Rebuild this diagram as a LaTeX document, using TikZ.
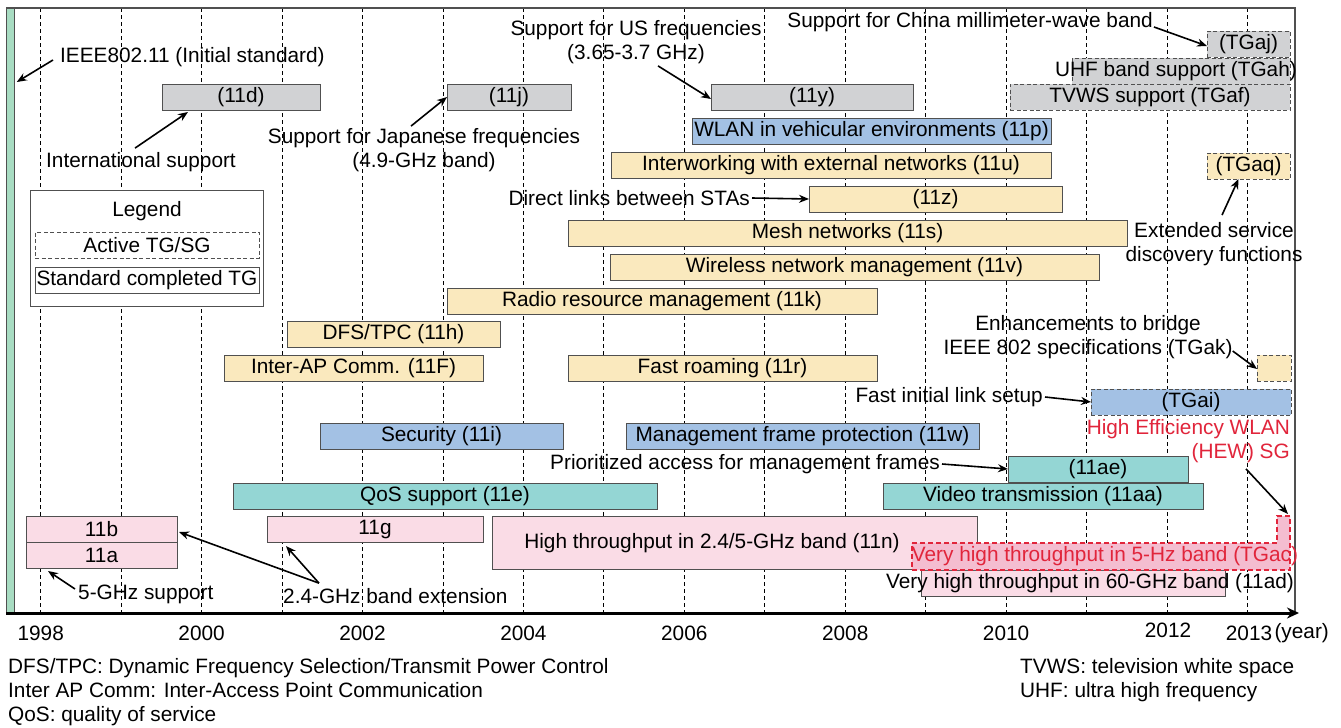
\documentclass[tikz,border=0pt]{standalone}
\usepackage{fontspec}
\setmainfont{Liberation Sans}
\usepackage{tikz}
\usetikzlibrary{arrows.meta, calc}
\definecolor{tggray}{RGB}{209,210,212}
\definecolor{tgblue}{RGB}{163,193,228}
\definecolor{tgyellow}{RGB}{250,233,190}
\definecolor{tgteal}{RGB}{148,214,212}
\definecolor{tgpink}{RGB}{250,220,230}
\definecolor{acpink}{RGB}{244,189,208}
\definecolor{hewred}{RGB}{225,37,59}
\definecolor{initgreen}{RGB}{168,220,194}
\definecolor{edgegray}{RGB}{80,80,80}

\begin{document}
\begin{tikzpicture}[
  x=1pt, y=-1pt,
  >=Stealth,
  tgbar/.style={
    rectangle, draw=edgegray, line width=0.9pt,
    anchor=north west, minimum height=26pt,
    inner sep=0pt, outer sep=0pt,
    font=\fontsize{20.8}{24}\selectfont,
  },
  activebar/.style={tgbar, dash pattern=on 4pt off 2.5pt},
  txt/.style={font=\fontsize{20.8}{24}\selectfont, inner sep=2pt, align=center},
  arr/.style={-{Stealth[length=10pt,width=8pt]}, line width=1.6pt},
  yearline/.style={dash pattern=on 4pt off 3pt, line width=0.8pt},
]
\useasboundingbox[fill=white] (0,0) rectangle (1341,728);

% ── Year grid
\foreach \yr in {1998,...,2013}{
  \pgfmathsetmacro\gx{40.7+(\yr-1998)*80.45}
  \draw[yearline] (\gx,8) -- (\gx,613);
}

% ── Frame, initial standard and time axis
\draw[edgegray, line width=1.2pt] (6,8) -- (1295,8) -- (1295,613);
\node[draw=edgegray, fill=initgreen, line width=0.8pt, anchor=north west,
      minimum width=8pt, minimum height=605pt, inner sep=0pt] (initbar) at (6,8) {};
\draw[line width=3pt, -{Stealth[length=12pt,width=11pt]}] (6,613) -- (1299,613);

% ── Year labels
\foreach \yr in {1998,2000,...,2010}
  \node[txt] (yr\yr) at ({40.7+(\yr-1998)*80.45},633) {\yr};
\node[txt] (yr2012) at (1168,630) {2012};
\node[txt] (yr2013) at (1249,633) {2013};
\node[txt, anchor=west, inner sep=0pt] (yrunit) at (yr2013.east) {(year)};

% ── Legend
\node[draw=edgegray, fill=white, line width=0.9pt, anchor=north west,
      minimum width=233pt, minimum height=116pt, inner sep=0pt] (legend) at (30,190) {};
\node[txt] (legendTitle) at (147,211) {Legend};
\node[activebar, fill=white, minimum width=224pt] (legActive) at (35,232) {Active TG/SG};
\node[tgbar, fill=white, minimum width=224pt] (legDone) at (35,267) {Standard completed TG};

% ── Regulatory / band bars (gray)
\node[activebar, fill=tggray, minimum width=83pt] (aj) at (1207,31) {(TGaj)};
\node[activebar, fill=tggray, minimum width=218pt] (ah) at (1072,58) {};
\node[activebar, fill=tggray, minimum width=280pt] (af) at (1010,84) {TVWS support (TGaf)};
\node[tgbar, fill=tggray, minimum width=158pt] (d11) at (162,84) {(11d)};
\node[tgbar, fill=tggray, minimum width=124pt] (j11) at (447,84) {(11j)};
\node[tgbar, fill=tggray, minimum width=202pt] (y11) at (711,84) {(11y)};

% ── Network functions (blue / yellow)
\node[tgbar, fill=tgblue, minimum width=359pt] (p11) at (692,118) {WLAN in vehicular environments (11p)};
\node[tgbar, fill=tgyellow, minimum width=440pt] (u11) at (611,152) {Interworking with external networks (11u)};
\node[activebar, fill=tgyellow, minimum width=83pt] (aq) at (1207,153) {(TGaq)};
\node[tgbar, fill=tgyellow, minimum width=253pt] (z11) at (809,186) {(11z)};
\node[tgbar, fill=tgyellow, minimum width=559pt] (s11) at (568,220) {Mesh networks (11s)};
\node[tgbar, fill=tgyellow, minimum width=489pt] (v11) at (610,254) {Wireless network management (11v)};
\node[tgbar, fill=tgyellow, minimum width=430pt] (k11) at (447,288) {Radio resource management (11k)};
\node[tgbar, fill=tgyellow, minimum width=213pt] (h11) at (287,321) {DFS/TPC (11h)};
\node[tgbar, fill=tgyellow, minimum width=259pt] (f11) at (224,355) {Inter-AP Comm. (11F)};
\node[tgbar, fill=tgyellow, minimum width=309pt] (r11) at (568,355) {Fast roaming (11r)};
\node[activebar, fill=tgyellow, minimum width=34pt] (ak) at (1257,355) {};
\node[activebar, fill=tgblue, minimum width=200pt] (ai) at (1091,389) {(TGai)};
\node[tgbar, fill=tgblue, minimum width=243pt] (i11) at (320,423) {Security (11i)};
\node[tgbar, fill=tgblue, minimum width=353pt] (w11) at (626,423) {Management frame protection (11w)};

% ── QoS (teal)
\node[tgbar, fill=tgteal, minimum width=180pt] (ae) at (1008,456) {(11ae)};
\node[tgbar, fill=tgteal, minimum width=424pt] (e11) at (233,483) {QoS support (11e)};
\node[tgbar, fill=tgteal, minimum width=320pt] (aa11) at (883,483) {Video transmission (11aa)};

% ── PHY (pink)
\node[tgbar, fill=tgpink, minimum width=151pt] (b11) at (26,516) {11b};
\node[tgbar, fill=tgpink, minimum width=151pt] (a11) at (26,542) {11a};
\node[tgbar, fill=tgpink, minimum width=216pt] (g11) at (267,516) {11g};
\node[tgbar, fill=tgpink, minimum width=485pt, minimum height=53pt] (n11) at (492,516) {};
\node[tgbar, fill=tgpink, minimum width=304pt] (ad11) at (921,570) {};
\draw[hewred, fill=acpink, line width=1.6pt, dash pattern=on 5pt off 3pt]
  (912,543) -- (1277,543) -- (1277,516) -- (1290,516) -- (1290,570) -- (912,570) -- cycle;
\coordinate (acbump) at (1288,514);

% ── Free labels
\node[txt] (ahtxt) at (1176,71) {UHF band support (TGah)};
\node[txt] (n11txt) at (712,543) {High throughput in 2.4/5-GHz band (11n)};
\node[txt, text=hewred] (actxt) at (1105,556) {Very high throughput in 5-Hz band (TGac)};
\node[txt] (adtxt) at (1090,583) {Very high throughput in 60-GHz band (11ad)};

\node[txt, anchor=west] (ieee) at (58,57) {IEEE802.11 (Initial standard)};
\node[txt] (intl) at (141,162) {International support};
\node[txt] (jpfreq) at (424,150) {Support for Japanese frequencies\\(4.9-GHz band)};
\node[txt] (usfreq) at (636,42) {Support for US frequencies\\(3.65-3.7 GHz)};
\node[txt, anchor=east] (china) at (1155,22) {Support for China millimeter-wave band};
\node[txt, anchor=east] (direct) at (752,198) {Direct links between STAs};
\node[txt] (extsvc) at (1214,244) {Extended service\\discovery functions};
\node[txt] (bridge) at (1088,337) {Enhancements to bridge\\IEEE 802 specifications (TGak)};
\node[txt, anchor=east] (fils) at (1045,397) {Fast initial link setup};
\node[txt, anchor=east, align=right, text=hewred] (hew) at (1292,441) {High Efficiency WLAN\\(HEW) SG};
\node[txt, anchor=east] (prio) at (942,464) {Prioritized access for management frames};
\node[txt, anchor=west] (ghz5) at (76,594) {5-GHz support};
\node[txt, anchor=west] (ghz24) at (281,596) {2.4-GHz band extension};

% ── Annotation arrows
\draw[arr] ($(ieee.west)+(-5,3)$) -- ($(initbar.north east)+(2,74)$);
\draw[arr] ($(intl.north)+(-6,-2)$) -- ($(d11.south west)+(26,2)$);
\draw[arr] ($(jpfreq.north)+(-13,0)$) -- (j11.west);
\draw[arr] ($(usfreq.south)+(22,0)$) -- ($(y11.west)+(0,2)$);
\draw[arr] ($(china.east)+(-1,5)$) -- ($(aj.west)+(0,2)$);
\draw[arr] (direct.east) -- (z11.west);
\draw[arr] ($(extsvc.north)+(8,-5)$) -- ($(aq.south)+(-10,0)$);
\draw[arr] ($(bridge.east)+(-2,14)$) -- ($(ak.west)+(0,1)$);
\draw[arr] (fils.east) -- (ai.west);
\draw[arr] ($(hew.south east)+(-46,4)$) -- (acbump);
\draw[arr] (prio.east) -- (ae.west);
\draw[arr] ($(ghz5.west)+(-1,-5)$) -- ($(a11.south west)+(22,3)$);
\draw[arr] ($(ghz24.north west)+(38,-3)$) -- ($(b11.east)+(2,3)$);
\draw[arr] ($(ghz24.north west)+(38,-3)$) -- ($(g11.south west)+(19,4)$);

% ── Abbreviations
\node[txt, anchor=west, align=left] (notesL) at (6,692)
  {DFS/TPC: Dynamic Frequency Selection/Transmit Power Control\\
   Inter AP Comm: Inter-Access Point Communication\\
   QoS: quality of service};
\node[txt, anchor=west, align=left] (notesR) at (1018,680)
  {TVWS: television white space\\UHF: ultra high frequency};

\end{tikzpicture}
\end{document}
